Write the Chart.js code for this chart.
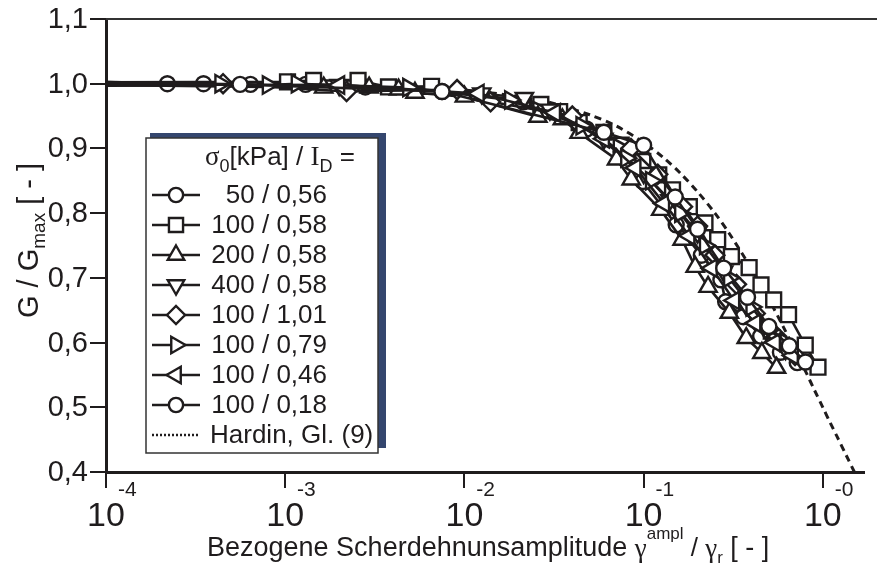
<!DOCTYPE html>
<html><head><meta charset="utf-8">
<script src="https://cdn.jsdelivr.net/npm/chart.js@4/dist/chart.umd.min.js"></script>
<style>html,body{margin:0;padding:0;background:#fff;}#wrap{width:877px;height:565px;}</style>
</head><body><div id="wrap"><canvas id="c" width="877" height="565"></canvas></div>
<script>
// ---------- data ----------
const xTickValues = [1e-4, 1e-3, 1e-2, 1e-1, 1];
const xTickExponents = ['-4', '-3', '-2', '-1', '-0'];
const yTickValues = [0.4, 0.5, 0.6, 0.7, 0.8, 0.9, 1.0, 1.1];
const yTickLabels = ['0,4', '0,5', '0,6', '0,7', '0,8', '0,9', '1,0', '1,1'];

const seriesLabels = ['50 / 0,56', '100 / 0,58', '200 / 0,58', '400 / 0,58', '100 / 1,01', '100 / 0,79', '100 / 0,46', '100 / 0,18'];
const hardinLabel = 'Hardin, Gl. (9)';

const s1x = [1e-4, 2.2e-4, 3.5e-4, 6.4e-4, 1.3e-3, 2.8e-3, 7.5e-3, 0.0213, 0.048, 0.075, 0.099, 0.152, 0.21, 0.27, 0.287, 0.36, 0.45, 0.58, 0.72];
const s1y = [1.003, 1.0, 1.0, 0.999, 0.999, 0.995, 0.988, 0.972, 0.93, 0.895, 0.849, 0.782, 0.735, 0.697, 0.663, 0.64, 0.61, 0.585, 0.569];
const s2x = [1e-4, 1.03e-3, 1.44e-3, 2.55e-3, 3.77e-3, 6.56e-3, 0.0267, 0.034, 0.0437, 0.06, 0.075, 0.099, 0.1215, 0.145, 0.18, 0.22, 0.259, 0.309, 0.388, 0.452, 0.532, 0.644, 0.798, 0.94];
const s2y = [1.002, 1.003, 1.005, 1.005, 0.995, 0.996, 0.968, 0.957, 0.94, 0.925, 0.905, 0.88, 0.859, 0.836, 0.81, 0.785, 0.759, 0.733, 0.716, 0.689, 0.666, 0.643, 0.596, 0.562];
const s3x = [1e-4, 1.64e-3, 2.94e-3, 4.29e-3, 5.3e-3, 0.01, 0.0257, 0.0352, 0.0437, 0.0706, 0.0853, 0.1246, 0.164, 0.194, 0.229, 0.301, 0.374, 0.457, 0.552];
const s3y = [0.998, 0.994, 0.994, 0.991, 0.986, 0.98, 0.949, 0.945, 0.924, 0.883, 0.852, 0.805, 0.759, 0.717, 0.686, 0.646, 0.607, 0.584, 0.561];
const s4x = [1e-4, 2e-3, 0.0125, 0.0216, 0.03, 0.06, 0.1, 0.14, 0.2, 0.28, 0.37, 0.48, 0.62];
const s4y = [0.997, 0.998, 0.985, 0.978, 0.96, 0.915, 0.862, 0.82, 0.77, 0.71, 0.66, 0.62, 0.59];
const s5x = [1e-4, 4.5e-4, 2.2e-3, 9.1e-3, 0.014, 0.04, 0.085, 0.12, 0.165, 0.2, 0.25, 0.33, 0.42, 0.55, 0.7];
const s5y = [1.001, 1.0, 0.988, 0.991, 0.972, 0.95, 0.9, 0.86, 0.81, 0.78, 0.735, 0.69, 0.645, 0.61, 0.58];
const s6x = [1e-4, 4.35e-4, 8e-4, 1.16e-3, 4.86e-3, 0.018, 0.045, 0.08, 0.11, 0.16, 0.22, 0.3, 0.4, 0.5, 0.62];
const s6y = [1.0, 1.0, 0.998, 1.0, 0.994, 0.975, 0.935, 0.885, 0.85, 0.8, 0.75, 0.7, 0.655, 0.62, 0.6];
const s7x = [1e-4, 2e-3, 0.012, 0.032, 0.06, 0.09, 0.13, 0.18, 0.24, 0.32, 0.42, 0.54, 0.68];
const s7y = [0.999, 0.998, 0.985, 0.955, 0.915, 0.87, 0.815, 0.765, 0.715, 0.665, 0.63, 0.6, 0.58];
const s8x = [1e-4, 5.6e-4, 7.5e-3, 0.06, 0.1, 0.15, 0.2, 0.28, 0.38, 0.5, 0.65, 0.8];
const s8y = [1.002, 0.999, 0.988, 0.925, 0.905, 0.825, 0.775, 0.715, 0.67, 0.625, 0.595, 0.57];
const hardinX = [1e-4, 1e-3, 0.01, 0.02, 0.03, 0.05, 0.07, 0.1, 0.13, 0.16, 0.2, 0.25, 0.3, 0.4, 0.5, 0.6, 0.7, 0.8, 0.9, 1.0, 1.1, 1.2, 1.35, 1.5];
const hardinY = [1.0, 0.999, 0.990, 0.980, 0.971, 0.952, 0.935, 0.909, 0.885, 0.862, 0.833, 0.800, 0.769, 0.714, 0.667, 0.625, 0.588, 0.556, 0.526, 0.500, 0.476, 0.455, 0.426, 0.400];

// ---------- styles ----------
const seriesX = [s1x, s2x, s3x, s4x, s5x, s6x, s7x, s8x];
const seriesY = [s1y, s2y, s3y, s4y, s5y, s6y, s7y, s8y];
const markerStyle = [
  {pointStyle: 'circle', rotation: 0, radius: 7.5},
  {pointStyle: 'rect', rotation: 0, radius: 10.5},
  {pointStyle: 'triangle', rotation: 0, radius: 10},
  {pointStyle: 'triangle', rotation: 180, radius: 10},
  {pointStyle: 'rectRot', rotation: 0, radius: 9.5},
  {pointStyle: 'triangle', rotation: 90, radius: 10},
  {pointStyle: 'triangle', rotation: -90, radius: 10},
  {pointStyle: 'circle', rotation: 0, radius: 7.5}
];
const FONT = '"Liberation Sans", Arial, sans-serif';
const SERIF = '"Liberation Serif", "Times New Roman", serif';
const INK = '#1f1c1d';

const datasets = seriesX.map((xs, k) => ({
  label: seriesLabels[k],
  data: xs.map((x, i) => ({x: x, y: seriesY[k][i]})),
  borderColor: INK,
  borderWidth: 2.6,
  backgroundColor: '#fff',
  pointBackgroundColor: '#fff',
  pointBorderColor: INK,
  pointBorderWidth: 2.4,
  pointStyle: markerStyle[k].pointStyle,
  pointRotation: markerStyle[k].rotation,
  pointRadius: ctx => ctx.dataIndex === 0 ? 0 : markerStyle[k].radius,
  tension: 0,
  order: 8 - k
}));
datasets.push({
  label: hardinLabel,
  data: hardinX.map((x, i) => ({x: x, y: hardinY[i]})),
  borderColor: INK,
  borderWidth: 3,
  borderDash: [7, 5],
  pointRadius: 0,
  tension: 0.3,
  order: 20
});

const decor = {
  id: 'decor',
  afterDraw(chart) {
    const ctx = chart.ctx, xs = chart.scales.x, ys = chart.scales.y, ca = chart.chartArea;
    ctx.save();
    // top frame line
    ctx.strokeStyle = '#333'; ctx.lineWidth = 2;
    ctx.beginPath(); ctx.moveTo(ca.left, ca.top); ctx.lineTo(chart.width, ca.top); ctx.stroke();
    ctx.fillStyle = INK;
    // y tick labels
    ctx.font = '29px ' + FONT; ctx.textAlign = 'right'; ctx.textBaseline = 'middle';
    yTickValues.forEach((v, i) => ctx.fillText(yTickLabels[i], 88, ys.getPixelForValue(v) + 1));
    // x tick labels
    ctx.textBaseline = 'alphabetic';
    xTickValues.forEach((v, i) => {
      const px = xs.getPixelForValue(v);
      ctx.font = '34px ' + FONT; ctx.textAlign = 'center';
      ctx.fillText('10', px, 526);
      const w = ctx.measureText('10').width;
      ctx.font = '21px ' + FONT; ctx.textAlign = 'left';
      ctx.fillText(xTickExponents[i], px + w / 2 - 7, 496);
    });
    // x title
    let x = 207; const yb = 556;
    const part = (t, f, dy) => { ctx.font = f; ctx.fillText(t, x, yb + (dy || 0)); x += ctx.measureText(t).width; };
    ctx.textAlign = 'left';
    part('Bezogene Scherdehnunsamplitude ', '27px ' + FONT);
    part('\u03b3', '27px ' + SERIF, 1);
    part('ampl', '17px ' + FONT, -17);
    part(' / ', '26px ' + FONT);
    part('\u03b3', '27px ' + SERIF, 1);
    part('r', '17px ' + FONT, 7);
    part(' [ - ]', '27px ' + FONT);
    // y title (rotated)
    ctx.save();
    ctx.translate(38, 318); ctx.rotate(-Math.PI / 2);
    x = 0;
    const part2 = (t, f, dy) => { ctx.font = f; ctx.fillText(t, x, dy || 0); x += ctx.measureText(t).width; };
    part2('G / G', '29px ' + FONT);
    part2('max', '19px ' + FONT, 7);
    part2(' [ - ]', '29px ' + FONT);
    ctx.restore();
    // legend box
    const L = 146, T = 138, W = 232, H = 315;
    ctx.fillStyle = '#34466e';
    ctx.fillRect(L + 4, T - 5, W + 4, H);
    ctx.fillStyle = '#fff';
    ctx.fillRect(L, T, W, H);
    ctx.strokeStyle = '#333'; ctx.lineWidth = 1.5;
    ctx.strokeRect(L, T, W, H);
    ctx.fillStyle = INK;
    // header
    x = 205;
    const part3 = (t, f, dy) => { ctx.font = f; ctx.fillText(t, x, 165 + (dy || 0)); x += ctx.measureText(t).width; };
    part3('\u03c3', '27px ' + SERIF);
    part3('0', '18px ' + FONT, 7);
    part3('[kPa] / ', '26px ' + FONT);
    part3('I', '27px ' + SERIF);
    part3('D', '18px ' + FONT, 7);
    part3(' =', '26px ' + FONT);
    // entries
    chart.data.datasets.forEach((ds, k) => {
      const cy = 195 + 30 * k;
      ctx.strokeStyle = INK;
      if (k < 8) {
        ctx.lineWidth = 2.5; ctx.setLineDash([]);
        ctx.beginPath(); ctx.moveTo(152, cy); ctx.lineTo(200, cy); ctx.stroke();
        ctx.fillStyle = '#fff'; ctx.lineWidth = 2.4;
        Chart.helpers.drawPoint(ctx, {pointStyle: markerStyle[k].pointStyle, rotation: markerStyle[k].rotation, radius: markerStyle[k].radius * 0.95, borderWidth: 2.4}, 176, cy);
        ctx.fillStyle = INK; ctx.font = '26px ' + FONT; ctx.textAlign = 'right'; ctx.textBaseline = 'middle';
        ctx.fillText(ds.label, 327, cy + 1);
      } else {
        ctx.lineWidth = 2.5; ctx.setLineDash([2, 2]);
        ctx.beginPath(); ctx.moveTo(152, cy); ctx.lineTo(200, cy); ctx.stroke();
        ctx.setLineDash([]);
        ctx.fillStyle = INK; ctx.font = '26px ' + FONT; ctx.textAlign = 'left'; ctx.textBaseline = 'middle';
        ctx.fillText(ds.label, 210, cy + 1);
      }
      ctx.textAlign = 'left'; ctx.textBaseline = 'alphabetic';
    });
    ctx.restore();
  }
};

new Chart(document.getElementById('c'), {
  type: 'line',
  data: {datasets: datasets},
  options: {
    responsive: false, animation: false, devicePixelRatio: 1,
    layout: {padding: {top: 19, right: 0, left: 0, bottom: 0}},
    plugins: {legend: {display: false}, tooltip: {enabled: false}},
    scales: {
      x: {
        type: 'logarithmic', min: 1e-4, max: 1.7,
        afterBuildTicks: s => { s.ticks = xTickValues.map(v => ({value: v})); },
        afterFit: s => { s.height = 93; },
        ticks: {display: false},
        grid: {drawOnChartArea: false, drawTicks: true, tickLength: 16, color: INK, lineWidth: 2},
        border: {display: true, color: INK, width: 3}
      },
      y: {
        min: 0.4, max: 1.1,
        afterBuildTicks: s => { s.ticks = yTickValues.map(v => ({value: v})); },
        afterFit: s => { s.width = 106; },
        ticks: {display: false},
        grid: {drawOnChartArea: false, drawTicks: true, tickLength: 16, color: INK, lineWidth: 2},
        border: {display: true, color: INK, width: 3}
      }
    }
  },
  plugins: [decor]
});
</script></body></html>
